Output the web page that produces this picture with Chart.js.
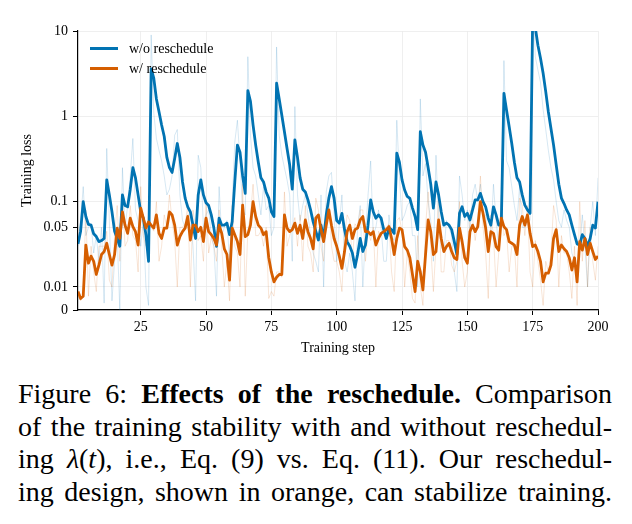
<!DOCTYPE html>
<html>
<head>
<meta charset="utf-8">
<script src="https://cdn.jsdelivr.net/npm/chart.js@4.4.1/dist/chart.umd.min.js"></script>
<style>
  html, body { margin: 0; padding: 0; background: #fff; }
  #wrap { position: relative; width: 632px; height: 524px; overflow: hidden; }
  #chartBox { position: absolute; left: 0; top: 0; width: 632px; height: 365px; }
  #legend { position: absolute; left: 90px; top: 39px; font-family: "Liberation Serif", "Times New Roman", Times, Tinos, serif; font-size: 14px; color: #000; }
  #legend .row { height: 19.5px; line-height: 19.5px; white-space: nowrap; }
  #legend .swatch { display: inline-block; width: 28px; height: 0; border-top: 3px solid; vertical-align: middle; margin-right: 11px; position: relative; top: -1px; }
  #caption { position: absolute; left: 18px; top: 378px; width: 594px; font-family: "Liberation Serif", "Times New Roman", Times, Tinos, serif; font-size: 28px; line-height: 32.5px; color: #000; }
  #caption .ln { text-align: justify; text-align-last: justify; }
</style>
</head>
<body>
<div id="wrap">
  <div id="chartBox"><canvas id="lossChart"></canvas></div>
  <div id="legend"></div>
  <div id="caption">
    <div class="ln">Figure 6: <b>Effects of the reschedule.</b> Comparison</div>
    <div class="ln">of the training stability with and without reschedul-</div>
    <div class="ln">ing <i>λ</i>(<i>t</i>), i.e., Eq. (9) vs. Eq. (11). Our reschedul-</div>
    <div class="ln">ing design, shown in orange, can stabilize training.</div>
  </div>
</div>
<script>
// ===== DATA =====
const steps = Array.from({ length: 200 }, (_, i) => i + 1);
const xTicks = [25, 50, 75, 100, 125, 150, 175, 200];
const yTicks = [0, 0.01, 0.05, 0.1, 1, 10];

// smoothed curves
const lossNoResched = [
  0.032, 0.045, 0.1, 0.067, 0.054, 0.053, 0.042, 0.039, 0.034, 0.035,
  0.037, 0.18, 0.12, 0.076, 0.045, 0.037, 0.03, 0.12, 0.09, 0.087,
  0.14, 0.25, 0.19, 0.12, 0.076, 0.064, 0.041, 0.02, 3.6, 2.8,
  1.6, 1.13, 0.79, 0.58, 0.33, 0.25, 0.22, 0.32, 0.48, 0.33,
  0.17, 0.11, 0.087, 0.076, 0.053, 0.037, 0.12, 0.18, 0.12, 0.097,
  0.09, 0.07, 0.049, 0.03, 0.064, 0.053, 0.053, 0.056, 0.041, 0.058,
  0.17, 0.46, 0.38, 0.2, 0.125, 2.0, 1.5, 0.79, 0.46, 0.29,
  0.19, 0.17, 0.13, 0.11, 0.076, 0.067, 2.44, 1.6, 1.03, 0.66,
  0.42, 0.27, 0.14, 0.53, 0.33, 0.19, 0.14, 0.13, 0.105, 0.08,
  0.058, 0.045, 0.0355, 0.053, 0.037, 0.07, 0.11, 0.15, 0.11, 0.06,
  0.056, 0.073, 0.047, 0.034, 0.03, 0.025, 0.017, 0.024, 0.037, 0.026,
  0.031, 0.053, 0.105, 0.076, 0.064, 0.07, 0.064, 0.047, 0.037, 0.049,
  0.047, 0.0425, 0.37, 0.29, 0.18, 0.137, 0.115, 0.109, 0.084, 0.067,
  0.047, 0.66, 0.46, 0.38, 0.25, 0.16, 0.084, 0.17, 0.12, 0.076,
  0.053, 0.056, 0.053, 0.047, 0.034, 0.024, 0.073, 0.087, 0.067, 0.073,
  0.061, 0.08, 0.105, 0.105, 0.125, 0.1, 0.087, 0.064, 0.053, 0.087,
  0.07, 0.053, 0.056, 1.86, 1.18, 0.76, 0.48, 0.29, 0.19, 0.17,
  0.12, 0.091, 0.08, 0.073, 14, 11, 6.8, 4.8, 3.2, 1.95,
  1.13, 0.72, 0.46, 0.27, 0.16, 0.11, 0.095, 0.08, 0.07, 0.053,
  0.041, 0.032, 0.031, 0.041, 0.037, 0.03, 0.037, 0.053, 0.049, 0.1
];
const lossResched = [
  0.008, 0.005, 0.006, 0.031, 0.019, 0.023, 0.02, 0.014, 0.018, 0.024,
  0.026, 0.0325, 0.024, 0.018, 0.024, 0.049, 0.037, 0.076, 0.053, 0.0425,
  0.064, 0.051, 0.0445, 0.031, 0.084, 0.064, 0.049, 0.058, 0.053, 0.049,
  0.07, 0.0425, 0.037, 0.049, 0.049, 0.076, 0.07, 0.053, 0.031, 0.039,
  0.0445, 0.049, 0.067, 0.0355, 0.053, 0.053, 0.0445, 0.05, 0.034, 0.064,
  0.0445, 0.041, 0.037, 0.031, 0.053, 0.0425, 0.028, 0.024, 0.012, 0.049,
  0.041, 0.034, 0.024, 0.091, 0.039, 0.041, 0.053, 0.1, 0.067, 0.053,
  0.049, 0.041, 0.0445, 0.022, 0.015, 0.0115, 0.013, 0.014, 0.014, 0.07,
  0.049, 0.0445, 0.047, 0.056, 0.0425, 0.053, 0.037, 0.061, 0.0445, 0.037,
  0.028, 0.064, 0.07, 0.047, 0.034, 0.053, 0.08, 0.053, 0.037, 0.03,
  0.023, 0.0165, 0.026, 0.0445, 0.053, 0.037, 0.047, 0.049, 0.061, 0.067,
  0.0445, 0.0445, 0.041, 0.0445, 0.031, 0.037, 0.0425, 0.0445, 0.047, 0.051,
  0.037, 0.024, 0.037, 0.049, 0.047, 0.0297, 0.027, 0.022, 0.014, 0.008,
  0.02, 0.015, 0.0087, 0.024, 0.061, 0.0445, 0.024, 0.026, 0.061, 0.037,
  0.026, 0.0297, 0.0325, 0.026, 0.022, 0.021, 0.049, 0.034, 0.022, 0.019,
  0.0445, 0.053, 0.0445, 0.051, 0.1, 0.073, 0.049, 0.026, 0.0445, 0.0425,
  0.0297, 0.027, 0.064, 0.051, 0.047, 0.034, 0.0325, 0.031, 0.024, 0.053,
  0.067, 0.053, 0.07, 0.0425, 0.0297, 0.031, 0.026, 0.02, 0.0115, 0.0145,
  0.0145, 0.018, 0.037, 0.047, 0.026, 0.031, 0.028, 0.026, 0.022, 0.0158,
  0.022, 0.0115, 0.034, 0.027, 0.037, 0.024, 0.0325, 0.026, 0.021, 0.023
];

// raw per-step losses (faint lines)
const rawNoResched = [
  0.03, 0.06, 0.15, 0.04, 0.05, 0.055, 0.025, 0.04, 0.02, 0.05,
  0.003, 0.42, 0.06, 0.004, 0.02, 0.04, 0.0, 0.25, 0.05, 0.09,
  0.2, 0.55, 0.08, 0.06, 0.03, 0.06, 0.01, 0.002, 9.0, 1.1,
  0.55, 0.4, 0.3, 0.2, 0.12, 0.14, 0.2, 0.6, 0.7, 0.12,
  0.06, 0.05, 0.07, 0.07, 0.03, 0.004, 0.35, 0.25, 0.05, 0.07,
  0.08, 0.04, 0.03, 0.006, 0.15, 0.04, 0.05, 0.06, 0.02, 0.09,
  0.5, 0.9, 0.3, 0.08, 0.07, 5.0, 0.6, 0.25, 0.2, 0.12,
  0.07, 0.15, 0.08, 0.09, 0.04, 0.05, 6.5, 0.6, 0.35, 0.25,
  0.18, 0.12, 0.02, 1.3, 0.12, 0.06, 0.09, 0.12, 0.07, 0.04,
  0.025, 0.02, 0.015, 0.12, 0.01, 0.13, 0.2, 0.22, 0.07, 0.02,
  0.055, 0.12, 0.02, 0.015, 0.025, 0.015, 0.004, 0.05, 0.09, 0.01,
  0.04, 0.12, 0.3, 0.04, 0.05, 0.08, 0.05, 0.02, 0.02, 0.07,
  0.04, 0.035, 0.9, 0.2, 0.06, 0.07, 0.09, 0.1, 0.04, 0.04,
  0.01, 1.6, 0.2, 0.28, 0.1, 0.06, 0.02, 0.35, 0.06, 0.03,
  0.025, 0.06, 0.05, 0.04, 0.015, 0.008, 0.2, 0.12, 0.06, 0.08,
  0.045, 0.12, 0.16, 0.1, 0.16, 0.07, 0.07, 0.03, 0.04, 0.16,
  0.06, 0.03, 0.06, 4.5, 0.3, 0.25, 0.15, 0.09, 0.06, 0.15,
  0.05, 0.05, 0.06, 0.06, 40, 5, 3.5, 2.5, 1.2, 0.7,
  0.4, 0.25, 0.18, 0.1, 0.06, 0.05, 0.08, 0.06, 0.05, 0.025,
  0.02, 0.015, 0.03, 0.07, 0.03, 0.01, 0.05, 0.1, 0.04, 0.19
];
const rawResched = [
  0.006, 0.004, 0.007, 0.08, 0.006, 0.03, 0.015, 0.008, 0.03, 0.03,
  0.03, 0.045, 0.012, 0.01, 0.04, 0.09, 0.02, 0.12, 0.03, 0.035,
  0.09, 0.04, 0.035, 0.015, 0.15, 0.04, 0.03, 0.07, 0.05, 0.045,
  0.1, 0.02, 0.03, 0.07, 0.05, 0.12, 0.06, 0.035, 0.01, 0.05,
  0.05, 0.055, 0.09, 0.01, 0.08, 0.05, 0.035, 0.04, 0.02, 0.1,
  0.025, 0.038, 0.03, 0.02, 0.08, 0.03, 0.01, 0.02, 0.004, 0.09,
  0.03, 0.025, 0.01, 0.16, 0.006, 0.045, 0.07, 0.16, 0.04, 0.04,
  0.045, 0.03, 0.05, 0.005, 0.008, 0.006, 0.015, 0.015, 0.013, 0.13,
  0.03, 0.04, 0.05, 0.065, 0.03, 0.07, 0.02, 0.09, 0.03, 0.025,
  0.015, 0.11, 0.08, 0.03, 0.02, 0.08, 0.12, 0.03, 0.02, 0.02,
  0.015, 0.008, 0.04, 0.07, 0.06, 0.02, 0.055, 0.05, 0.08, 0.08,
  0.02, 0.045, 0.035, 0.05, 0.01, 0.045, 0.04, 0.047, 0.05, 0.055,
  0.015, 0.008, 0.06, 0.065, 0.045, 0.01, 0.025, 0.015, 0.005, 0.003,
  0.04, 0.01, 0.002, 0.05, 0.13, 0.03, 0.008, 0.03, 0.12, 0.015,
  0.015, 0.035, 0.035, 0.018, 0.015, 0.02, 0.1, 0.02, 0.01, 0.015,
  0.08, 0.065, 0.035, 0.06, 0.2, 0.05, 0.025, 0.005, 0.07, 0.04,
  0.01, 0.025, 0.12, 0.04, 0.045, 0.015, 0.03, 0.03, 0.01, 0.11,
  0.09, 0.04, 0.09, 0.015, 0.01, 0.035, 0.02, 0.012, 0.002, 0.02,
  0.015, 0.025, 0.09, 0.06, 0.01, 0.04, 0.025, 0.025, 0.015, 0.005,
  0.03, 0.002, 0.1, 0.02, 0.06, 0.01, 0.05, 0.02, 0.012, 0.03
];

const BLUE = "#0173b2";
const ORANGE = "#d55e00";
const SERIF = "'Liberation Serif', 'Times New Roman', Times, Tinos, serif";

// ===== SYMLOG SCALE (linear below 0.01, log above) =====
const LIN_THRESH = 0.01;
const LIN_SPAN = 0.27; // linear part, in decades

function symlog(v) {
  return v <= LIN_THRESH ? (v / LIN_THRESH) * LIN_SPAN : LIN_SPAN + Math.log10(v / LIN_THRESH);
}
function symlogInv(t) {
  return t <= LIN_SPAN ? (t / LIN_SPAN) * LIN_THRESH : LIN_THRESH * Math.pow(10, t - LIN_SPAN);
}

class SymlogScale extends Chart.LinearScale {
  buildTicks() {
    return yTicks.map((v) => ({ value: v }));
  }
  configure() {
    super.configure();
    this._tMin = symlog(this.min);
    this._tMax = symlog(this.max);
  }
  getPixelForValue(value) {
    return this.getPixelForDecimal((symlog(value) - this._tMin) / (this._tMax - this._tMin));
  }
  getValueForPixel(pixel) {
    return symlogInv(this._tMin + this.getDecimalForPixel(pixel) * (this._tMax - this._tMin));
  }
}
SymlogScale.id = "symlog";
SymlogScale.defaults = {};
Chart.register(SymlogScale);

const toPoints = (arr) => steps.map((s, i) => ({ x: s, y: arr[i] }));

// ===== CHART =====
const ctx = document.getElementById("lossChart").getContext("2d");
const lossChart = new Chart(ctx, {
  type: "line",
  data: {
    datasets: [
      {
        label: "w/ reschedule",
        data: toPoints(lossResched),
        borderColor: ORANGE,
        borderWidth: 2.8,
        pointRadius: 0,
        tension: 0,
        borderJoinStyle: "round",
        order: 0,
      },
      {
        label: "w/o reschedule",
        data: toPoints(lossNoResched),
        borderColor: BLUE,
        borderWidth: 2.8,
        pointRadius: 0,
        tension: 0,
        borderJoinStyle: "round",
        order: 1,
      },
      {
        label: "",
        data: toPoints(rawResched),
        borderColor: "rgba(213,94,0,0.16)",
        borderWidth: 1,
        pointRadius: 0,
        tension: 0,
        order: 2,
      },
      {
        label: "",
        data: toPoints(rawNoResched),
        borderColor: "rgba(1,115,178,0.16)",
        borderWidth: 1,
        pointRadius: 0,
        tension: 0,
        order: 3,
      },
    ],
  },
  options: {
    responsive: true,
    maintainAspectRatio: false,
    animation: false,
    layout: { padding: { left: 0, top: 31, right: 34, bottom: 0 } },
    plugins: {
      legend: { display: false },
      tooltip: { enabled: false },
    },
    scales: {
      x: {
        type: "linear",
        min: 1,
        max: 200,
        afterBuildTicks: (axis) => {
          axis.ticks = xTicks.map((v) => ({ value: v }));
        },
        afterFit: (axis) => {
          axis.height = 55;
        },
        ticks: {
          autoSkip: false,
          maxRotation: 0,
          padding: 4,
          color: "#000",
          font: { family: SERIF, size: 14 },
        },
        grid: {
          color: "#ebebeb",
          lineWidth: 0.8,
          tickColor: "#000",
          tickLength: 5,
          tickWidth: 1,
        },
        border: { color: "#000", width: 1.2 },
        title: {
          display: true,
          text: "Training step",
          color: "#000",
          font: { family: SERIF, size: 14 },
          padding: { top: 0, bottom: 8 },
        },
      },
      y: {
        type: "symlog",
        min: 0,
        max: 10,
        afterFit: (axis) => {
          axis.width = 78;
        },
        ticks: {
          autoSkip: false,
          padding: 5,
          color: "#000",
          font: { family: SERIF, size: 14 },
          callback: (v) => String(v),
        },
        grid: {
          color: "#ebebeb",
          lineWidth: 0.8,
          tickColor: "#000",
          tickLength: 5,
          tickWidth: 1,
        },
        border: { color: "#000", width: 1.2 },
        title: {
          display: true,
          text: "Training loss",
          color: "#000",
          font: { family: SERIF, size: 14 },
          padding: { top: 19, bottom: 0 },
        },
      },
    },
  },
});

// ===== HTML LEGEND (inside the plot, top-left) =====
const legendBox = document.getElementById("legend");
lossChart.data.datasets
  .filter((ds) => ds.label)
  .sort((a, b) => b.order - a.order)
  .forEach((ds) => {
    const row = document.createElement("div");
    row.className = "row";
    const sw = document.createElement("span");
    sw.className = "swatch";
    sw.style.borderTopColor = ds.borderColor;
    row.appendChild(sw);
    row.appendChild(document.createTextNode(ds.label));
    legendBox.appendChild(row);
  });
</script>
</body>
</html>
